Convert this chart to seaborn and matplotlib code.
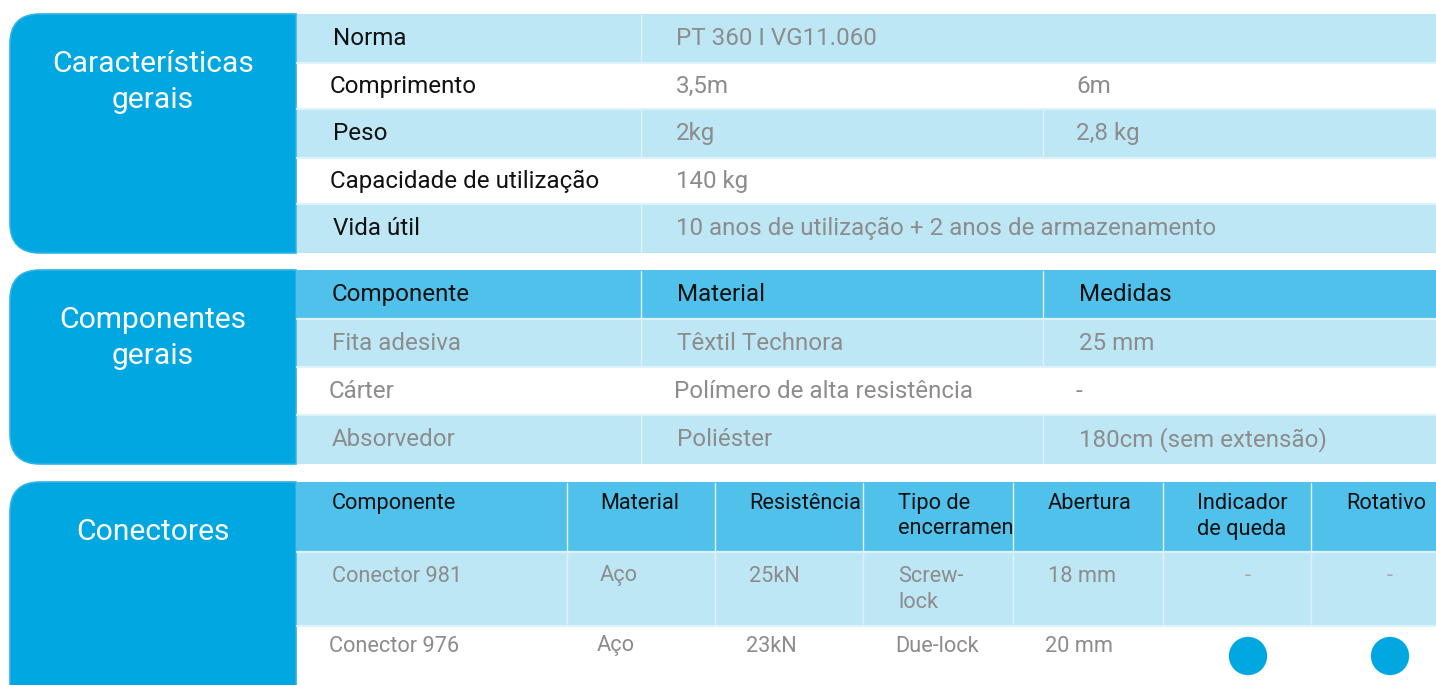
"""
Ficha técnica - tabela de características, componentes e conectores.
"""
import matplotlib
matplotlib.use("Agg")
import matplotlib.pyplot as plt
from matplotlib.patches import Rectangle, PathPatch
from matplotlib.path import Path
from matplotlib.transforms import Bbox, TransformedBbox
import seaborn as sns
import pandas as pd

sns.set_theme(style="white")
plt.rcParams['font.family'] = ['Roboto', 'DejaVu Sans']

# --- data ---
section_titles = ["Características\ngerais", "Componentes\ngerais", "Conectores"]

spec_labels = ["Norma", "Comprimento", "Peso", "Capacidade de utilização", "Vida útil"]
spec_values_a = ["PT 360 I VG11.060", "3,5m", "2kg", "140 kg",
                 "10 anos de utilização + 2 anos de armazenamento"]
spec_values_b = ["", "6m", "2,8 kg", "", ""]

comp_headers = ["Componente", "Material", "Medidas"]
comp_names = ["Fita adesiva", "Cárter", "Absorvedor"]
comp_materials = ["Têxtil Technora", "Polímero de alta resistência", "Poliéster"]
comp_sizes = ["25 mm", "-", "180cm (sem extensão)"]

conn_headers = ["Componente", "Material", "Resistência", "Tipo de\nencerramento",
                "Abertura", "Indicador\nde queda", "Rotativo"]
conn_names = ["Conector 981", "Conector 976"]
conn_materials = ["Aço", "Aço"]
conn_strength = ["25kN", "23kN"]
conn_lock = ["Screw-\nlock", "Due-lock"]
conn_opening = ["18 mm", "20 mm"]
conn_drop_indicator = [False, True]
conn_swivel = [False, True]

# --- colours ---
BOX = '#00A7E1'
HEAD = '#50C1EB'
LIGHT = '#BEE7F6'
WHITE = '#FFFFFF'
SEP = '#DDF2FB'
GREY = '#8C8C8C'
INK = '#111111'

W, H = 1436, 685
LEFT, SPLIT = 10, 296
RADIUS = 30
FS_MAIN, FS_CONN, FS_TITLE = 17.4, 15.7, 21.6

fig = plt.figure(figsize=(W / 100, H / 100), dpi=100)
ax = fig.add_axes([0, 0, 1, 1])
ax.set_xlim(0, W)
ax.set_ylim(H, 0)


def side_box(y0, y1, title, ty):
    """Rounded-left title box"""
    x0, x1, r = LEFT, SPLIT, RADIUS
    verts = [(x1, y0), (x0 + r, y0), (x0, y0), (x0, y0 + r),
             (x0, y1 - r), (x0, y1), (x0 + r, y1), (x1, y1), (x1, y0)]
    codes = [Path.MOVETO, Path.LINETO, Path.CURVE3, Path.CURVE3,
             Path.LINETO, Path.CURVE3, Path.CURVE3, Path.LINETO, Path.CLOSEPOLY]
    ax.add_patch(PathPatch(Path(verts, codes), facecolor=BOX,
                           edgecolor='#2FB3E6', lw=1.2, zorder=2))
    for i, line in enumerate(title.split('\n')):
        ax.text(153, ty + i * 36, line, color='white', fontsize=FS_TITLE,
                ha='center', va='center', zorder=5)


def rows(bounds, colors, cols):
    """Row backgrounds plus light separators"""
    for (y0, y1), c in zip(zip(bounds[:-1], bounds[1:]), colors):
        ax.add_patch(Rectangle((SPLIT + 1, y0), W - SPLIT, y1 - y0,
                               facecolor=c, lw=0, zorder=1))
        if c != WHITE:
            for x in cols:
                ax.plot([x, x], [y0 + 1, y1 - 1], color=SEP, lw=1.0, zorder=3)
    for y in bounds[1:-1]:
        ax.plot([SPLIT + 1, W], [y, y], color=SEP, lw=1.6, zorder=3)


def cell(x, y, txt, color, size, clip=None, step=26):
    for i, line in enumerate(str(txt).split('\n')):
        t = ax.text(x, y + i * step, line, color=color, fontsize=size,
                    ha='left', va='center', zorder=5)
        if clip is not None:
            t.set_clip_box(TransformedBbox(clip, ax.transData))
            t.set_clip_on(True)


# --- section 1: características gerais ---
b1 = [14, 63, 109, 158, 204, 253]
rows(b1, [LIGHT, WHITE, LIGHT, WHITE, LIGHT], [641])
ax.plot([1043, 1043], [b1[2] + 1, b1[3] - 1], color=SEP, lw=1.0, zorder=3)
side_box(b1[0], b1[-1], section_titles[0], 64)
specs = pd.DataFrame({'label': spec_labels, 'a': spec_values_a, 'b': spec_values_b})
label_x = [333, 330, 333, 330, 333]
for i, r in specs.iterrows():
    yc = (b1[i] + b1[i + 1]) / 2
    cell(label_x[i], yc, r['label'], INK, FS_MAIN)
    cell(676, yc, r['a'], GREY, FS_MAIN)
    if r['b']:
        cell(1076, yc, r['b'], GREY, FS_MAIN)

# --- section 2: componentes gerais ---
b2 = [270, 319, 367, 415, 464]
rows(b2, [HEAD, LIGHT, WHITE, LIGHT], [641, 1043])
side_box(b2[0], b2[-1], section_titles[1], 320)
col2 = [332, 677, 1079]
for x, h in zip(col2, comp_headers):
    cell(x, (b2[0] + b2[1]) / 2, h, INK, FS_MAIN)
for i, vals in enumerate(zip(comp_names, comp_materials, comp_sizes)):
    yc = (b2[i + 1] + b2[i + 2]) / 2
    dx = -3 if i == 1 else 0
    for x, v in zip(col2, vals):
        cell(x + dx, yc, v, GREY, FS_MAIN)

# --- section 3: conectores ---
b3 = [482, 552, 626, 720]
col3_edges = [SPLIT + 1, 567, 715, 863, 1013, 1163, 1311, W]
rows(b3, [HEAD, LIGHT, WHITE], col3_edges[1:-1])
side_box(b3[0], b3[-1], section_titles[2], 532)
col3 = [332, 600, 749, 898, 1048, 1197, 1346]
for j, h in enumerate(conn_headers):
    clip = Bbox.from_extents(col3_edges[j], b3[0], col3_edges[j + 1], b3[1])
    cell(col3[j], 503, h, INK, FS_CONN, clip=clip)

line_y = [576, 646]
text_cols = [conn_names, conn_materials, conn_strength, conn_lock, conn_opening]
for i in range(len(conn_names)):
    dx = -3 if i == 1 else 0
    for x, col in zip(col3, text_cols):
        cell(x + dx, line_y[i], col[i], GREY, FS_CONN)

# indicator columns: dot where present, dash otherwise
mark_x = [1248, 1390]
flags = pd.DataFrame({
    'x': [mark_x[0]] * len(conn_names) + [mark_x[1]] * len(conn_names),
    'y': line_y * 2,
    'on': conn_drop_indicator + conn_swivel,
})
flags.loc[flags['on'], 'y'] += 10
sns.scatterplot(data=flags[flags['on']], x='x', y='y', s=760, color=BOX,
                edgecolor='none', ax=ax, zorder=6, legend=False)
for _, r in flags[~flags['on']].iterrows():
    ax.text(r['x'], r['y'], '-', color='#A9A9A9', fontsize=FS_CONN,
            ha='center', va='center', zorder=5)

ax.set_xlim(0, W)
ax.set_ylim(H, 0)
ax.axis('off')
fig.savefig('out.png', dpi=100)
